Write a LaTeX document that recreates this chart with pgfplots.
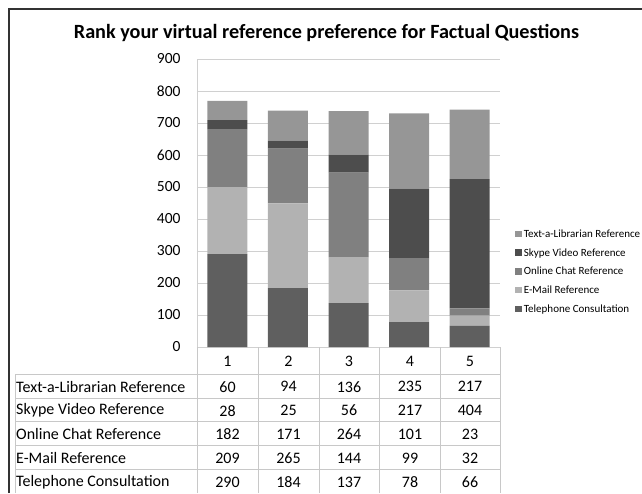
\documentclass[border=0pt]{standalone}
\usepackage{pgfplots}
\pgfplotsset{compat=1.18}
\usepackage{pgfplotstable}
\usepackage{fontspec}
\setmainfont{Carlito}
\definecolor{ctel}{HTML}{5F5F5F}
\definecolor{cmail}{HTML}{B2B2B2}
\definecolor{cchat}{HTML}{808080}
\definecolor{cskype}{HTML}{4D4D4D}
\definecolor{ctext}{HTML}{969696}
\definecolor{gridc}{HTML}{D0D0D0}
\definecolor{tabc}{HTML}{C8C8C8}
\pgfplotstableread{
x tel mail chat skype text
1 290 209 182 28 60
2 184 265 171 25 94
3 137 144 264 56 136
4 78 99 101 217 235
5 66 32 23 404 217
}\data
\begin{document}
\begin{tikzpicture}[x=1pt,y=1pt]
\useasboundingbox (0,0) rectangle (642,493);
% outer frame
\draw[line width=1.6pt, black!80] (9,0) -- (9,484) -- (642,484);
% title
\node[font=\fontsize{20.2}{22}\selectfont\bfseries] at (326.5,460.5) {Rank your virtual reference preference for Factual Questions};
\begin{axis}[
  at={(197pt,146pt)}, anchor=south west,
  scale only axis, width=303pt, height=288pt,
  xmin=0.5, xmax=5.5, ymin=0, ymax=900,
  ybar stacked, bar width=40pt,
  axis x line=none, axis y line*=left,
  y axis line style={gridc},
  ytick={0,100,...,900},
  major tick length=0pt,
  ymajorgrids, grid style={gridc, line width=0.8pt},
  /pgf/number format/assume math mode=true,
  yticklabel style={font=\fontsize{15.5}{17}\selectfont, xshift=-13pt},
  reverse legend,
  legend style={draw=none, fill=none, at={(1.05,0.415)}, anchor=north west,
    font=\fontsize{11}{13}\selectfont, row sep=5.6pt, inner sep=0pt},
  legend cell align=left,
  legend image code/.code={\fill[#1] (0pt,-3pt) rectangle (6.5pt,3.5pt);},
]
\addplot[fill=ctel, draw=none] table[x=x,y=tel]{\data};
\addlegendentry{Telephone Consultation}
\addplot[fill=cmail, draw=none] table[x=x,y=mail]{\data};
\addlegendentry{E-Mail Reference}
\addplot[fill=cchat, draw=none] table[x=x,y=chat]{\data};
\addlegendentry{Online Chat Reference}
\addplot[fill=cskype, draw=none] table[x=x,y=skype]{\data};
\addlegendentry{Skype Video Reference}
\addplot[fill=ctext, draw=none] table[x=x,y=text]{\data};
\addlegendentry{Text-a-Librarian Reference}
\end{axis}
% table grid
\begin{scope}[tabc, line width=0.8pt]
\foreach \xx in {197,258,319,379.5,440,500} \draw (\xx,0) -- (\xx,146);
\draw (15,0) -- (15,119);
\foreach \yy in {374.3,398.3,421.7,445.3,469.3} \draw (15,493-\yy) -- (500,493-\yy);
\end{scope}
\begin{scope}[font=\fontsize{16}{18}\selectfont]
\foreach \c [count=\i] in {227.5,288.5,349,410,470} \node at (\c,493-361) {\i};
\foreach \lab [count=\r] in {Text-a-Librarian Reference,Skype Video Reference,Online Chat Reference,E-Mail Reference,Telephone Consultation}
  \node[anchor=west, inner sep=0pt] at (16,493-363-\r*23.8) {\lab};
\foreach \a/\b/\cc/\d/\e [count=\r] in {60/94/136/235/217, 28/25/56/217/404, 182/171/264/101/23, 209/265/144/99/32, 290/184/137/78/66}{
  \node at (227.5,493-363-\r*23.8) {\a};
  \node at (288.5,493-363-\r*23.8) {\b};
  \node at (349,493-363-\r*23.8) {\cc};
  \node at (410,493-363-\r*23.8) {\d};
  \node at (470,493-363-\r*23.8) {\e};
}
\end{scope}
\end{tikzpicture}
\end{document}
